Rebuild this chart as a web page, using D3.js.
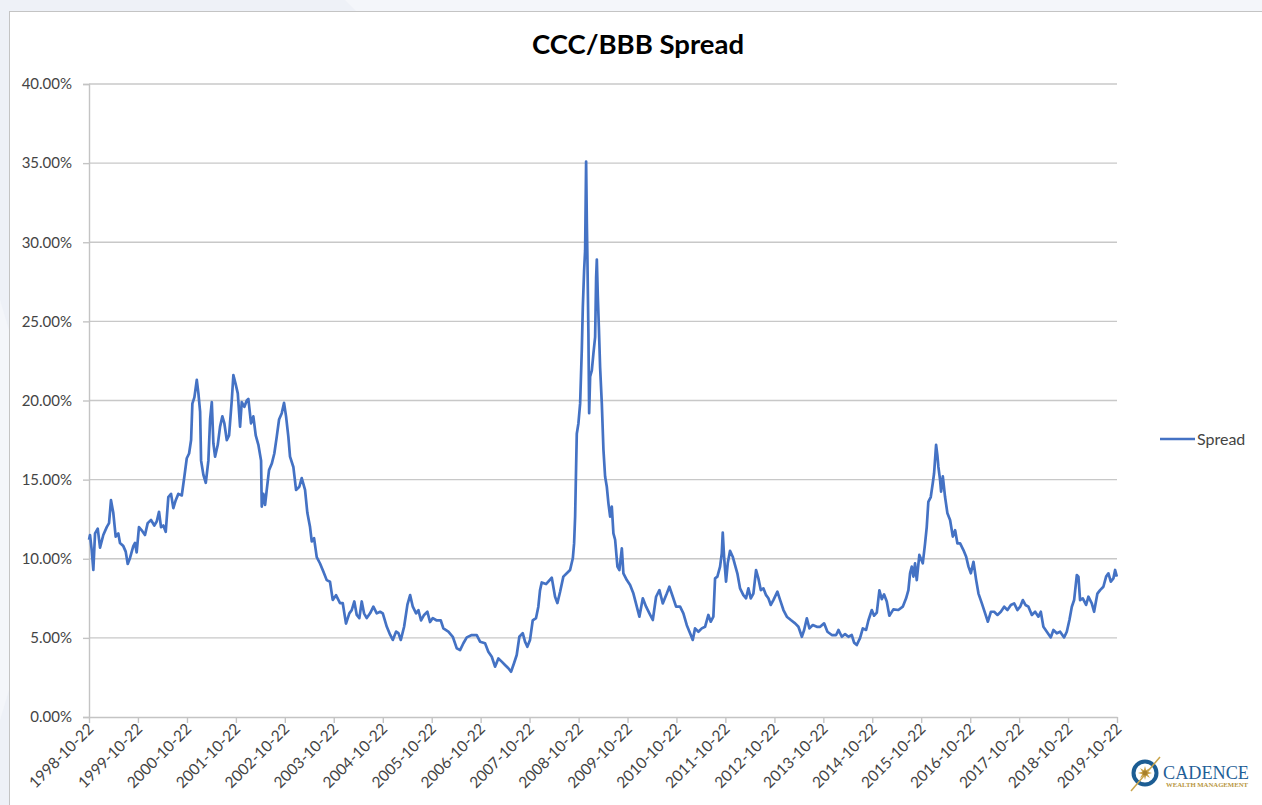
<!DOCTYPE html>
<html>
<head>
<meta charset="utf-8">
<script src="https://cdn.jsdelivr.net/npm/d3@7"></script>
<style>
  html, body { margin: 0; padding: 0; background: #eef1f7; }
  svg { display: block; }
</style>
</head>
<body>
<svg id="chart" width="1262" height="805"></svg>
<script>
// ---------------- DATA ----------------
const chartTitle = "CCC/BBB Spread";
const seriesName = "Spread";
// dates expressed as decimal years
const dateYears = [
  1998.806,1998.826,1998.861,1998.894,1998.929,1998.984,1999.031,1999.098,1999.168,1999.215,
  1999.255,1999.302,1999.351,1999.405,1999.439,1999.507,1999.556,1999.597,1999.644,1999.711,
  1999.746,1999.780,1999.827,1999.883,1999.950,2000.005,2000.073,2000.140,2000.189,2000.236,
  2000.277,2000.324,2000.373,2000.426,2000.481,2000.528,2000.577,2000.630,2000.700,2000.753,
  2000.802,2000.849,2000.890,2000.916,2000.957,2001.006,2001.039,2001.074,2001.094,2001.141,
  2001.190,2001.243,2001.278,2001.313,2001.345,2001.380,2001.435,2001.482,2001.529,2001.570,
  2001.619,2001.666,2001.721,2001.754,2001.803,2001.844,2001.891,2001.925,2001.979,2002.028,
  2002.060,2002.115,2002.162,2002.211,2002.265,2002.320,2002.334,2002.367,2002.402,2002.436,
  2002.483,2002.538,2002.591,2002.640,2002.688,2002.743,2002.790,2002.831,2002.878,2002.912,
  2002.980,2003.035,2003.102,2003.151,2003.219,2003.266,2003.321,2003.356,2003.403,2003.458,
  2003.525,2003.593,2003.662,2003.729,2003.785,2003.852,2003.934,2003.989,2004.056,2004.124,
  2004.173,2004.226,2004.275,2004.328,2004.377,2004.424,2004.479,2004.547,2004.614,2004.683,
  2004.751,2004.806,2004.888,2004.955,2005.010,2005.078,2005.125,2005.174,2005.241,2005.309,
  2005.364,2005.419,2005.486,2005.533,2005.588,2005.650,2005.717,2005.772,2005.828,2005.909,
  2005.991,2006.044,2006.146,2006.236,2006.318,2006.385,2006.453,2006.522,2006.624,2006.726,
  2006.794,2006.896,2006.963,2007.033,2007.100,2007.168,2007.237,2007.304,2007.372,2007.427,
  2007.488,2007.543,2007.597,2007.666,2007.713,2007.760,2007.815,2007.870,2007.938,2007.985,
  2008.019,2008.054,2008.142,2008.259,2008.326,2008.373,2008.428,2008.495,2008.565,2008.632,
  2008.688,2008.714,2008.735,2008.755,2008.769,2008.802,2008.837,2008.871,2008.892,2008.918,
  2008.939,2008.959,2008.974,2008.986,2009.006,2009.021,2009.041,2009.076,2009.109,2009.143,
  2009.164,2009.178,2009.198,2009.219,2009.245,2009.280,2009.313,2009.347,2009.382,2009.415,
  2009.450,2009.484,2009.517,2009.552,2009.599,2009.639,2009.689,2009.721,2009.791,2009.858,
  2009.926,2009.995,2010.048,2010.118,2010.185,2010.253,2010.322,2010.389,2010.457,2010.526,
  2010.608,2010.661,2010.731,2010.798,2010.880,2010.947,2011.017,2011.084,2011.139,2011.186,
  2011.254,2011.323,2011.390,2011.458,2011.507,2011.560,2011.595,2011.642,2011.697,2011.732,
  2011.752,2011.779,2011.819,2011.854,2011.901,2011.956,2012.003,2012.050,2012.105,2012.173,
  2012.228,2012.275,2012.324,2012.377,2012.432,2012.479,2012.528,2012.581,2012.636,2012.683,
  2012.732,2012.785,2012.867,2012.923,2012.990,2013.059,2013.141,2013.229,2013.296,2013.366,
  2013.413,2013.468,2013.521,2013.590,2013.672,2013.740,2013.821,2013.889,2013.979,2014.067,
  2014.114,2014.183,2014.250,2014.318,2014.387,2014.434,2014.489,2014.557,2014.612,2014.679,
  2014.726,2014.796,2014.843,2014.898,2014.951,2015.000,2015.047,2015.102,2015.155,2015.237,
  2015.339,2015.429,2015.497,2015.544,2015.578,2015.613,2015.646,2015.680,2015.715,2015.768,
  2015.838,2015.885,2015.919,2015.952,2016.001,2016.042,2016.069,2016.110,2016.136,2016.157,
  2016.191,2016.212,2016.247,2016.293,2016.341,2016.395,2016.451,2016.498,2016.545,2016.600,
  2016.667,2016.723,2016.770,2016.819,2016.872,2016.927,2016.974,2017.043,2017.110,2017.166,
  2017.227,2017.294,2017.362,2017.431,2017.499,2017.566,2017.636,2017.703,2017.771,2017.826,
  2017.881,2017.934,2017.995,2018.065,2018.132,2018.199,2018.248,2018.301,2018.371,2018.452,
  2018.506,2018.575,2018.643,2018.724,2018.779,2018.833,2018.882,2018.929,2018.984,2019.017,
  2019.051,2019.106,2019.174,2019.221,2019.290,2019.337,2019.405,2019.460,2019.527,2019.583,
  2019.630,2019.679,2019.732,2019.767,2019.802
];
// spread in percent
const spreadPct = [
  11.2,11.5,10.55,9.3,11.6,11.9,10.7,11.5,12.0,12.25,
  13.7,12.9,11.4,11.6,11.0,10.8,10.45,9.67,10.05,10.8,
  11.0,10.4,12.0,11.8,11.5,12.25,12.45,12.1,12.35,12.97,
  12.0,12.1,11.7,13.9,14.1,13.2,13.7,14.1,14.0,15.2,
  16.35,16.65,17.5,19.8,20.2,21.3,20.45,19.3,16.2,15.3,
  14.8,16.2,18.8,19.9,17.3,16.45,17.2,18.35,19.0,18.55,
  17.5,17.8,20.0,21.6,21.0,20.45,18.35,19.9,19.6,20.0,
  20.1,18.55,19.0,17.8,17.2,16.2,13.3,14.1,13.4,14.35,
  15.6,16.0,16.65,17.7,18.8,19.2,19.85,19.0,17.7,16.45,
  15.8,14.35,14.55,15.1,14.35,12.9,12.0,11.1,11.3,10.1,
  9.7,9.2,8.65,8.55,7.4,7.7,7.2,7.2,5.9,6.55,
  6.75,7.3,6.45,6.25,7.3,6.55,6.25,6.55,6.97,6.55,
  6.65,6.55,5.7,5.2,4.87,5.4,5.3,4.87,5.7,7.1,
  7.7,6.97,6.55,6.75,6.1,6.45,6.65,6.0,6.25,6.1,
  6.1,5.6,5.4,5.07,4.34,4.23,4.66,5.03,5.18,5.18,
  4.76,4.66,4.13,3.81,3.18,3.7,3.5,3.29,3.08,2.86,
  3.4,3.92,5.07,5.3,4.76,4.44,4.87,6.1,6.25,6.97,
  8.0,8.5,8.4,8.8,7.6,7.2,7.9,8.87,9.08,9.29,
  10.03,10.97,12.66,15.8,17.9,18.55,19.8,23.2,25.9,28.2,
  29.5,35.1,31.2,28.9,24.25,19.2,21.5,21.9,23.0,24.0,
  27.8,28.9,26.6,24.7,22.1,19.8,16.9,15.2,14.55,13.5,
  12.66,13.3,11.6,11.2,9.5,9.29,10.66,9.08,8.65,8.34,
  7.8,6.97,6.34,7.5,6.97,6.55,6.13,7.6,8.02,7.18,
  7.8,8.23,7.6,6.97,6.97,6.55,5.8,5.29,4.87,5.6,
  5.39,5.6,5.7,6.45,6.02,6.34,8.76,8.87,9.5,10.34,
  11.65,10.13,8.55,9.71,10.5,10.13,9.6,9.08,8.13,7.7,
  7.5,8.13,7.5,7.8,9.29,8.76,8.02,8.13,7.7,7.5,
  7.08,7.39,7.92,7.39,6.76,6.34,6.13,5.92,5.7,5.07,
  5.5,6.24,5.6,5.81,5.7,5.7,5.92,5.39,5.18,5.18,
  5.5,5.07,5.24,5.07,5.18,4.7,4.55,5.0,5.6,5.5,
  6.1,6.76,6.4,6.6,8.0,7.45,7.75,7.3,6.4,6.8,
  6.76,6.97,7.5,8.02,9.08,9.5,8.87,9.71,8.65,10.24,
  9.71,10.97,12.0,13.6,13.9,14.77,15.4,17.2,16.55,15.8,
  14.98,14.24,15.2,13.9,12.87,12.45,11.4,11.8,10.97,10.97,
  10.55,10.13,9.5,9.08,9.81,8.65,7.8,7.18,6.55,6.02,
  6.65,6.65,6.45,6.65,6.97,6.76,7.08,7.18,6.76,6.97,
  7.39,7.08,6.97,6.45,6.65,6.34,6.65,5.7,5.39,5.03,
  5.5,5.29,5.39,5.03,5.39,6.13,6.97,7.39,8.97,8.87,
  7.39,7.5,7.08,7.6,7.18,6.65,7.8,8.02,8.23,8.87,
  9.08,8.55,8.76,9.29,8.87
];
const yTickValues = [0, 0.05, 0.10, 0.15, 0.20, 0.25, 0.30, 0.35, 0.40];
const xTickLabels = [
  "1998-10-22","1999-10-22","2000-10-22","2001-10-22","2002-10-22","2003-10-22",
  "2004-10-22","2005-10-22","2006-10-22","2007-10-22","2008-10-22","2009-10-22",
  "2010-10-22","2011-10-22","2012-10-22","2013-10-22","2014-10-22","2015-10-22",
  "2016-10-22","2017-10-22","2018-10-22","2019-10-22"
];

// ---------------- CHART ----------------
const W = 1262, H = 805;
const plot = { left: 89, right: 1117, top: 84, bottom: 717 };
const svg = d3.select("#chart");
const FONT = "Lato, 'Open Sans', sans-serif";
const TXT = "#444444";

// background decoration
svg.append("rect").attr("width", W).attr("height", H).attr("fill", "#eef1f7");
svg.append("polygon").attr("points", "345,0 1262,0 1262,11 356,11").attr("fill", "#f4f6fa");
svg.append("polygon").attr("points", "0,300 9,330 9,690 0,720").attr("fill", "#f4f6fa");

// panel
svg.append("rect").attr("x", 9.5).attr("y", 11.5).attr("width", W).attr("height", H)
  .attr("fill", "#ffffff").attr("stroke", "#c4c4c4").attr("stroke-width", 1);

function decToDate(d) {
  const y = Math.floor(d);
  const s = Date.UTC(y, 0, 1), e = Date.UTC(y + 1, 0, 1);
  return new Date(s + (d - y) * (e - s));
}
const parse = d3.utcParse("%Y-%m-%d");
const tickDates = xTickLabels.map(parse);

const x = d3.scaleUtc()
  .domain([tickDates[0], tickDates[tickDates.length - 1]])
  .range([plot.left, plot.right]);
const y = d3.scaleLinear().domain([0, 0.40]).range([plot.bottom, plot.top]);

// gridlines
svg.append("g").selectAll("line").data(yTickValues.filter(v => v > 0)).join("line")
  .attr("x1", plot.left).attr("x2", plot.right)
  .attr("y1", d => y(d)).attr("y2", d => y(d))
  .attr("stroke", "#c8c8c8").attr("stroke-width", 1.4);

// y axis
const yAxis = d3.axisLeft(y).tickValues(yTickValues).tickFormat(d3.format(".2%")).tickSize(6).tickPadding(11);
const gy = svg.append("g").attr("transform", `translate(${plot.left},0)`).call(yAxis);
gy.select(".domain").attr("stroke", "#c4c4c4").attr("stroke-width", 1.4);
gy.selectAll(".tick line").attr("stroke", "#c4c4c4").attr("stroke-width", 1.4);
gy.selectAll(".tick text").attr("fill", TXT).style("font-family", FONT).style("font-size", "15px");

// x axis
const xAxis = d3.axisBottom(x).tickValues(tickDates).tickFormat((d, i) => xTickLabels[i]).tickSize(6).tickSizeOuter(0);
const gx = svg.append("g").attr("transform", `translate(0,${plot.bottom})`).call(xAxis);
gx.select(".domain").attr("stroke", "#c4c4c4").attr("stroke-width", 1.4);
gx.selectAll(".tick line").attr("stroke", "#c4c4c4").attr("stroke-width", 1.4);
gx.selectAll(".tick text")
  .attr("fill", TXT).style("font-family", FONT).style("font-size", "15.5px")
  .attr("text-anchor", "end")
  .attr("dx", 0).attr("dy", 0)
  .attr("transform", "translate(5,13) rotate(-45)")
  .attr("y", 0).attr("x", 0);

// line
const points = dateYears.map((d, i) => ({ date: decToDate(d), value: spreadPct[i] / 100 }));
const line = d3.line().x(d => x(d.date)).y(d => y(d.value));
svg.append("path").datum(points)
  .attr("d", line)
  .attr("fill", "none")
  .attr("stroke", "#4472c4")
  .attr("stroke-width", 2.7)
  .attr("stroke-linejoin", "round");

// title
svg.append("text").attr("x", 638).attr("y", 54).attr("text-anchor", "middle")
  .attr("fill", "#000").style("font-family", FONT).style("font-weight", "bold").style("font-size", "27.5px")
  .text(chartTitle);

// legend
svg.append("line").attr("x1", 1160).attr("x2", 1195).attr("y1", 439).attr("y2", 439)
  .attr("stroke", "#4472c4").attr("stroke-width", 2.7);
svg.append("text").attr("x", 1197).attr("y", 444.5).attr("fill", TXT)
  .style("font-family", FONT).style("font-size", "16px").text(seriesName);

// logo
const logo = svg.append("g");
logo.append("circle").attr("cx", 1145).attr("cy", 773).attr("r", 11.5)
  .attr("fill", "none").attr("stroke", "#1c5d93").attr("stroke-width", 4);
logo.append("line").attr("x1", 1131).attr("y1", 791).attr("x2", 1160).attr("y2", 757)
  .attr("stroke", "#c9a44a").attr("stroke-width", 1.5);
const star = d3.range(16).map(i => {
  const a = i * Math.PI / 8, r = i % 2 ? 3 : 7;
  return [1145 + r * Math.cos(a), 773 + r * Math.sin(a)];
});
logo.append("polygon").attr("points", star.map(p => p.join(",")).join(" ")).attr("fill", "#c9a44a");
logo.append("circle").attr("cx", 1145).attr("cy", 773).attr("r", 2.5).attr("fill", "#a8802a");
logo.append("text").attr("x", 1163).attr("y", 779)
  .attr("textLength", 86).attr("lengthAdjust", "spacingAndGlyphs")
  .attr("fill", "#1f5f98").style("font-family", "'Liberation Serif', 'DejaVu Serif', serif")
  .style("font-size", "19px").text("CADENCE");
logo.append("text").attr("x", 1166).attr("y", 786.5)
  .attr("textLength", 82).attr("lengthAdjust", "spacingAndGlyphs")
  .attr("fill", "#b8963e").style("font-family", "'Liberation Serif', 'DejaVu Serif', serif")
  .style("font-size", "6px").style("font-weight", "bold").text("WEALTH MANAGEMENT");
</script>
</body>
</html>
